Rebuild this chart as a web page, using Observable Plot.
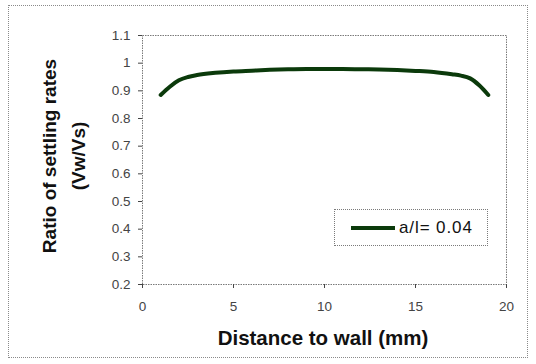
<!DOCTYPE html>
<html>
<head>
<meta charset="utf-8">
<script src="https://cdn.jsdelivr.net/npm/d3@7"></script>
<script src="https://cdn.jsdelivr.net/npm/@observablehq/plot@0.6"></script>
<style>
  html, body { margin: 0; padding: 0; background: #fff; }
  #wrap { position: relative; width: 536px; height: 364px; font-family: "Liberation Sans", Arial, sans-serif; }
  #border { position: absolute; left: 8px; top: 5px; width: 518px; height: 351px; border: 1px dotted #8a8a8a; pointer-events: none; }
  #legend { position: absolute; left: 334px; top: 209px; width: 154px; height: 37px; border: 1px dotted #7a7a7a; background: #fff;
            display: flex; align-items: center; box-sizing: border-box; padding-left: 16px; font-size: 17px; letter-spacing: 0.9px; color: #111; }
  #legend .swatch { display: inline-block; width: 44px; height: 4px; background: #0b3a0b; margin-right: 4px; }
  #ytitle { position: absolute; left: 64px; top: 156px; transform: translate(-50%, -50%) rotate(-90deg); text-align: center;
            font-weight: bold; font-size: 19px; line-height: 29px; color: #111; white-space: nowrap; }
  #xtitle { position: absolute; left: 323px; top: 338px; transform: translate(-50%, -50%); font-weight: bold; font-size: 20.5px; color: #111; white-space: nowrap; }
</style>
</head>
<body>
<div id="wrap">
  <div id="chart"></div>
  <div id="border"></div>
  <div id="ytitle">Ratio of settling rates<br>(Vw/Vs)</div>
  <div id="xtitle">Distance to wall (mm)</div>
  <div id="legend"><span class="swatch"></span><span id="legendLabel"></span></div>
</div>
<script>
// Settling-rate ratio across the channel width
const distance = [1, 1.5, 2, 2.5, 3, 4, 5, 6, 7, 8, 9, 10, 11, 12, 13, 14, 15, 16, 17, 17.5, 18, 18.5, 19];
const ratio    = [0.885, 0.915, 0.938, 0.950, 0.957, 0.965, 0.970, 0.973, 0.976, 0.978, 0.979, 0.979, 0.979, 0.978, 0.977, 0.975, 0.972, 0.968, 0.960, 0.955, 0.945, 0.920, 0.885];
const seriesLabel = "a/l= 0.04";
const xTicks = [0, 5, 10, 15, 20];
const yTicks = [0.2, 0.3, 0.4, 0.5, 0.6, 0.7, 0.8, 0.9, 1, 1.1];

const points = distance.map((d, i) => ({distance: d, ratio: ratio[i]}));
const fmtY = d => d === 1 ? "1" : d3.format(".1f")(d);

document.getElementById("legendLabel").textContent = seriesLabel;

const chart = Plot.plot({
  width: 536,
  height: 364,
  marginLeft: 142,
  marginRight: 30,
  marginTop: 35,
  marginBottom: 80,
  style: {fontFamily: "'Liberation Sans', Arial, sans-serif", fontSize: "13px", color: "#444"},
  x: {domain: [0, 20], ticks: xTicks, label: null},
  y: {domain: [0.2, 1.1], ticks: yTicks, label: null, tickFormat: fmtY},
  marks: [
    Plot.frame({stroke: "#7a7a7a", strokeDasharray: "1.5,1"}),
    Plot.axisX({ticks: xTicks, tickSize: 4, tickPadding: 13, label: null, fontSize: 13.5}),
    Plot.axisY({ticks: yTicks, tickSize: 4, tickPadding: 8, label: null, tickFormat: fmtY, fontSize: 13.5}),
    Plot.line(points, {x: "distance", y: "ratio", stroke: "#0b3a0b", strokeWidth: 4, curve: "monotone-x"})
  ]
});
document.getElementById("chart").appendChild(chart);
</script>
</body>
</html>
